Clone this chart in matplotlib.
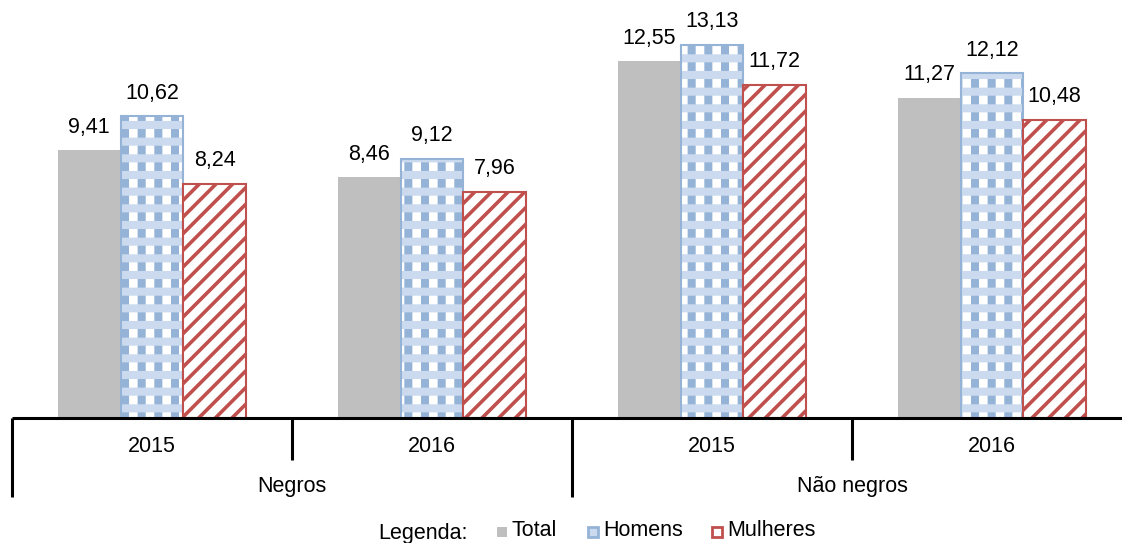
import numpy as np
import matplotlib.pyplot as plt
from matplotlib.patches import Rectangle
import matplotlib.transforms as mtransforms

plt.rcParams['font.family'] = ['Liberation Sans', 'DejaVu Sans']

# ================================================
# DATA
# ================================================
years    = ['2015', '2016', '2015', '2016']
groups   = ['Negros', 'Não negros']
series   = ['Total', 'Homens', 'Mulheres']
total    = [9.41, 8.46, 12.55, 11.27]
homens   = [10.62, 9.12, 13.13, 12.12]
mulheres = [8.24, 7.96, 11.72, 10.48]
# ================================================
c_grey  = '#BFBFBF'
c_blue  = '#95B3D7'
c_lblue = '#CBDAEE'
c_red   = '#C0504D'
fs      = 15.5

W, H = 1122, 543
fig = plt.figure(figsize=(W/100, H/100), dpi=100)
ax = fig.add_axes([12/W, (H - 418)/H, 1120/W, 418/H])

x = np.arange(len(years))
bw = 0.224

def fmt(v):
    return f"{v:.2f}".replace('.', ',')

# Total
ax.bar(x - bw, total, bw, color=c_grey, lw=0)
# Homens: blue vertical stripes, light horizontal bands on top, then outline
b2a = ax.bar(x, homens, bw, facecolor='white', edgecolor=c_blue, hatch='|', lw=0)
b2b = ax.bar(x, homens, bw, facecolor='none', edgecolor=c_lblue, hatch='-', lw=0)
ax.bar(x, homens, bw, facecolor='none', edgecolor=c_blue, lw=1.5)
# Mulheres
b3a = ax.bar(x + bw, mulheres, bw, facecolor='white', edgecolor=c_red, hatch='//', lw=0)
ax.bar(x + bw, mulheres, bw, facecolor='none', edgecolor=c_red, lw=1.5)

for p in b2a:
    p.set_hatch_linewidth(5.8)
for p in b2b:
    p.set_hatch_linewidth(5.8)
for p in b3a:
    p.set_hatch_linewidth(2.6)

for off, vals in zip([-bw, 0, bw], [total, homens, mulheres]):
    for xi, v in zip(x, vals):
        ax.annotate(fmt(v), (xi + off, v), xytext=(0, 9), textcoords='offset points',
                    ha='center', va='bottom', fontsize=fs)

ax.set_xlim(-0.5, 3.5)
ax.set_ylim(0, 14.7)
ax.axis('off')

# category axis drawn by hand
tr = mtransforms.blended_transform_factory(ax.transData, ax.transAxes)
ax.plot([-0.5, 3.5], [0, 0], color='black', lw=2.2, transform=tr, clip_on=False,
        solid_capstyle='butt')
for xb in [-0.5, 0.5, 1.5, 2.5, 3.5]:
    low = -0.189 if xb in (-0.5, 1.5, 3.5) else -0.1005
    ax.plot([xb, xb], [0, low], color='black', lw=2.2, transform=tr, clip_on=False,
            solid_capstyle='butt')
for xi, yr in zip(x, years):
    ax.text(xi, -0.067, yr, transform=tr, ha='center', va='center', fontsize=fs)
for gi, g in enumerate(groups):
    ax.text(2 * gi + 0.5, -0.165, g, transform=tr, ha='center', va='center', fontsize=fs)

# legend
fig.text(423/W, 1 - 534/H, 'Legenda:', ha='center', va='center', fontsize=fs)
leg_x = [497, 588, 712]
for lx, name in zip(leg_x, series):
    y0 = 1 - 537/H
    kw = dict(transform=fig.transFigure, figure=fig)
    if name == 'Total':
        fig.patches.append(Rectangle((lx/W, y0), 10/W, 10/H, facecolor=c_grey, lw=0, **kw))
    elif name == 'Homens':
        fig.patches.append(Rectangle((lx/W, y0), 10/W, 10/H, facecolor=c_lblue,
                                     edgecolor=c_blue, lw=2, **kw))
    else:
        r = Rectangle((lx/W, y0), 10/W, 10/H, facecolor='white', edgecolor=c_red,
                      hatch='/', lw=2, **kw)
        r.set_hatch_linewidth(4)
        fig.patches.append(r)
    fig.text((lx + 15)/W, 1 - 531/H, name, ha='left', va='center', fontsize=fs)

fig.savefig('out.png', dpi=100)
